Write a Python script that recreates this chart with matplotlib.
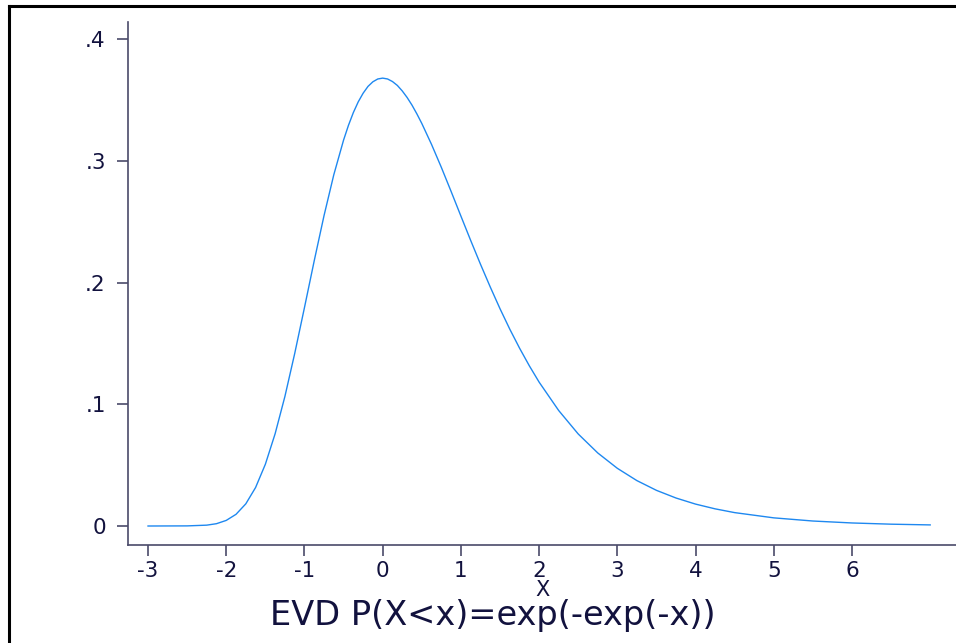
"""
evd-density.py — 極値分布（Gumbel）の密度 P(X<x)=exp(-exp(-x)) を描く
"""
import matplotlib
matplotlib.use("Agg")
import matplotlib.pyplot as plt
from matplotlib.lines import Line2D

# 図から読んだ密度の値
x_vals = [-3.0, -2.5, -2.25, -2.125, -2.0, -1.875, -1.75, -1.625, -1.5, -1.375,
          -1.25, -1.125, -1.0, -0.875, -0.75, -0.625, -0.5, -0.4375, -0.375, -0.3125,
          -0.25, -0.1875, -0.125, -0.0625, 0.0, 0.0625, 0.125, 0.1875, 0.25, 0.3125,
          0.375, 0.4375, 0.5, 0.625, 0.75, 0.875, 1.0, 1.125, 1.25, 1.375,
          1.5, 1.625, 1.75, 1.875, 2.0, 2.25, 2.5, 2.75, 3.0, 3.25,
          3.5, 3.75, 4.0, 4.25, 4.5, 5.0, 5.5, 6.0, 6.5, 7.0]
density = [0.0000, 0.0001, 0.0007, 0.0019, 0.0046, 0.0096, 0.0182, 0.0316, 0.0507, 0.0758,
           0.1064, 0.1416, 0.1794, 0.2179, 0.2549, 0.2885, 0.3170, 0.3291, 0.3396, 0.3484,
           0.3555, 0.3611, 0.3649, 0.3672, 0.3679, 0.3672, 0.3651, 0.3619, 0.3574, 0.3520,
           0.3457, 0.3385, 0.3307, 0.3134, 0.2946, 0.2748, 0.2546, 0.2346, 0.2151, 0.1964,
           0.1785, 0.1617, 0.1461, 0.1316, 0.1182, 0.0949, 0.0756, 0.0600, 0.0474, 0.0373,
           0.0293, 0.0230, 0.0180, 0.0141, 0.0110, 0.0067, 0.0041, 0.0025, 0.0015, 0.0009]

x_ticks = [-3, -2, -1, 0, 1, 2, 3, 4, 5, 6]
y_ticks = [0, 0.1, 0.2, 0.3, 0.4]
y_ticklabels = ["0", ".1", ".2", ".3", ".4"]

TEXT = "#12123e"
AXIS = "#4a4a6a"
plt.rcParams["font.family"] = ["DejaVu Sans"]
plt.rcParams["axes.unicode_minus"] = False

W, H = 956, 643
fig = plt.figure(figsize=(W / 100, H / 100), dpi=100)
ax = fig.add_axes([128 / W, (H - 545) / H, (W - 128) / W, (545 - 22) / H])

ax.plot(x_vals, density, color="#1e88f0", lw=1.0)

ax.set_xlim(-3.256, 7.33)
ax.set_ylim(-0.0156, 0.414)
ax.set_xticks(x_ticks)
ax.set_yticks(y_ticks)
ax.set_yticklabels(y_ticklabels)
ax.tick_params(axis="x", length=8, width=1.2, color=AXIS, labelsize=15.5,
               labelcolor=TEXT, pad=3.5)
ax.tick_params(axis="y", length=8, width=1.2, color=AXIS, labelsize=15.5,
               labelcolor=TEXT, pad=8)
for s in ("top", "right"):
    ax.spines[s].set_visible(False)
for s in ("left", "bottom"):
    ax.spines[s].set_color(AXIS)
    ax.spines[s].set_linewidth(1.2)

fig.text(543 / W, 1 - 590 / H, "X", ha="center", va="center", fontsize=15, color=TEXT)
fig.text(493 / W, 1 - 615 / H, "EVD P(X<x)=exp(-exp(-x))", ha="center", va="center",
         fontsize=24.2, color=TEXT)

# 外枠（左と上）
fig.add_artist(Line2D([8.5 / W, 8.5 / W], [0, 1 - 6 / H], transform=fig.transFigure,
                      color="black", lw=2.2))
fig.add_artist(Line2D([8.5 / W, 1], [1 - 6 / H, 1 - 6 / H], transform=fig.transFigure,
                      color="black", lw=2.2))

fig.savefig("out.png", dpi=100)
